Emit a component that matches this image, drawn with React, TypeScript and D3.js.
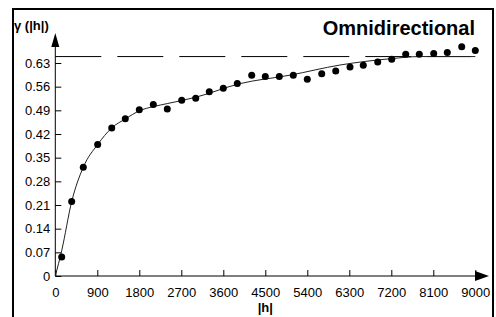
import React, { useEffect, useRef } from 'react';
import * as d3 from 'd3';

// experimental variogram points (lag distance, semivariance)
const lags = [137, 351, 600, 908, 1209, 1500, 1800, 2100, 2400, 2709, 3009, 3300, 3600, 3900, 4209, 4500, 4800, 5100, 5400, 5709, 6009, 6315, 6600, 6909, 7209, 7509, 7800, 8109, 8400, 8709, 9000];
const gammas = [0.056, 0.22, 0.322, 0.389, 0.438, 0.465, 0.492, 0.507, 0.494, 0.52, 0.526, 0.545, 0.555, 0.569, 0.594, 0.59, 0.59, 0.594, 0.582, 0.598, 0.606, 0.618, 0.623, 0.633, 0.641, 0.656, 0.656, 0.658, 0.661, 0.678, 0.667];

// fitted model curve
const modelLags = [0, 137, 351, 600, 908, 1209, 1506, 1807, 2100, 2400, 2709, 3015, 3958, 5029, 6100, 7209, 7800, 9000];
const modelGammas = [0, 0.075, 0.22, 0.322, 0.389, 0.438, 0.465, 0.489, 0.501, 0.51, 0.519, 0.529, 0.569, 0.594, 0.624, 0.643, 0.649, 0.649];

const sill = 0.649;

const yTicks = [0, 0.07, 0.14, 0.21, 0.28, 0.35, 0.42, 0.49, 0.56, 0.63];
const yTickLabels = ['0', '0.07', '0.14', '0.21', '0.28', '0.35', '0.42', '0.49', '0.56', '0.63'];
const xTicks = [0, 900, 1800, 2700, 3600, 4500, 5400, 6300, 7200, 8100, 9000];

const title = 'Omnidirectional';
const yLabel = 'γ (|h|)';
const xLabel = '|h|';

const App: React.FC = () => {
  const svgRef = useRef<SVGSVGElement | null>(null);

  useEffect(() => {
    const svg = d3.select(svgRef.current);
    svg.selectAll('*').remove();

    const font = 'Arial, "Liberation Sans", sans-serif';

    const x = d3.scaleLinear().domain([0, 9000]).range([55.3, 475.3]);
    const y = d3.scaleLinear().domain([0, 0.63]).range([276, 63]);

    // frame
    svg.append('rect')
      .attr('x', 13).attr('y', 9)
      .attr('width', 480).attr('height', 400)
      .attr('fill', 'none')
      .attr('stroke', '#000')
      .attr('stroke-width', 2);

    // axes
    const yAxis = svg.append('g')
      .attr('transform', `translate(${x(0)},0)`)
      .call(d3.axisLeft(y).tickValues(yTicks)
        .tickFormat((d, i) => yTickLabels[i])
        .tickSizeInner(-6).tickSizeOuter(0).tickPadding(5));
    yAxis.select('.domain').remove();

    const xAxis = svg.append('g')
      .attr('transform', `translate(0,${y(0)})`)
      .call(d3.axisBottom(x).tickValues(xTicks)
        .tickFormat(d3.format('d'))
        .tickSizeInner(-6).tickSizeOuter(0).tickPadding(12));
    xAxis.select('.domain').remove();

    [yAxis, xAxis].forEach(g => {
      g.selectAll('text')
        .attr('font-family', font)
        .attr('font-size', 13)
        .attr('fill', '#000');
      g.selectAll('line').attr('stroke', '#000');
    });

    // axis lines with arrows
    svg.append('line')
      .attr('x1', x(0)).attr('x2', x(0))
      .attr('y1', y(0)).attr('y2', 45)
      .attr('stroke', '#000');
    svg.append('path')
      .attr('d', `M${x(0)},33 L${x(0) - 4},47 L${x(0) + 4},47 Z`)
      .attr('fill', '#000');
    svg.append('line')
      .attr('x1', x(0)).attr('x2', 477)
      .attr('y1', y(0)).attr('y2', y(0))
      .attr('stroke', '#000');
    svg.append('path')
      .attr('d', `M489,${y(0)} L475,${y(0) - 5} L475,${y(0) + 5} Z`)
      .attr('fill', '#000');

    // sill
    svg.append('line')
      .attr('x1', x(0)).attr('x2', x(8900))
      .attr('y1', y(sill)).attr('y2', y(sill))
      .attr('stroke', '#000')
      .attr('stroke-width', 1)
      .attr('stroke-dasharray', '46,16');

    // model
    const line = d3.line<number>()
      .x((d, i) => x(modelLags[i]))
      .y(d => y(d))
      .curve(d3.curveMonotoneX);
    svg.append('path')
      .datum(modelGammas)
      .attr('d', line)
      .attr('fill', 'none')
      .attr('stroke', '#222')
      .attr('stroke-width', 1);

    // points
    svg.append('g')
      .selectAll('circle')
      .data(gammas)
      .join('circle')
      .attr('cx', (d, i) => x(lags[i]))
      .attr('cy', d => y(d))
      .attr('r', 3.5)
      .attr('fill', '#000');

    // labels
    svg.append('text')
      .attr('x', 475).attr('y', 35)
      .attr('text-anchor', 'end')
      .attr('font-family', font)
      .attr('font-weight', 'bold')
      .attr('font-size', 20)
      .text(title);

    svg.append('text')
      .attr('x', 14).attr('y', 29.5)
      .attr('font-family', font)
      .attr('font-weight', 'bold')
      .attr('font-size', 13)
      .text(yLabel);

    svg.append('text')
      .attr('x', x(4500)).attr('y', 312)
      .attr('text-anchor', 'middle')
      .attr('font-family', font)
      .attr('font-weight', 'bold')
      .attr('font-size', 13)
      .text(xLabel);
  }, []);

  return (
    <svg ref={svgRef} width={496} height={317}
      style={{ position: 'absolute', left: 0, top: 0, background: '#fff' }} />
  );
};

export default App;
